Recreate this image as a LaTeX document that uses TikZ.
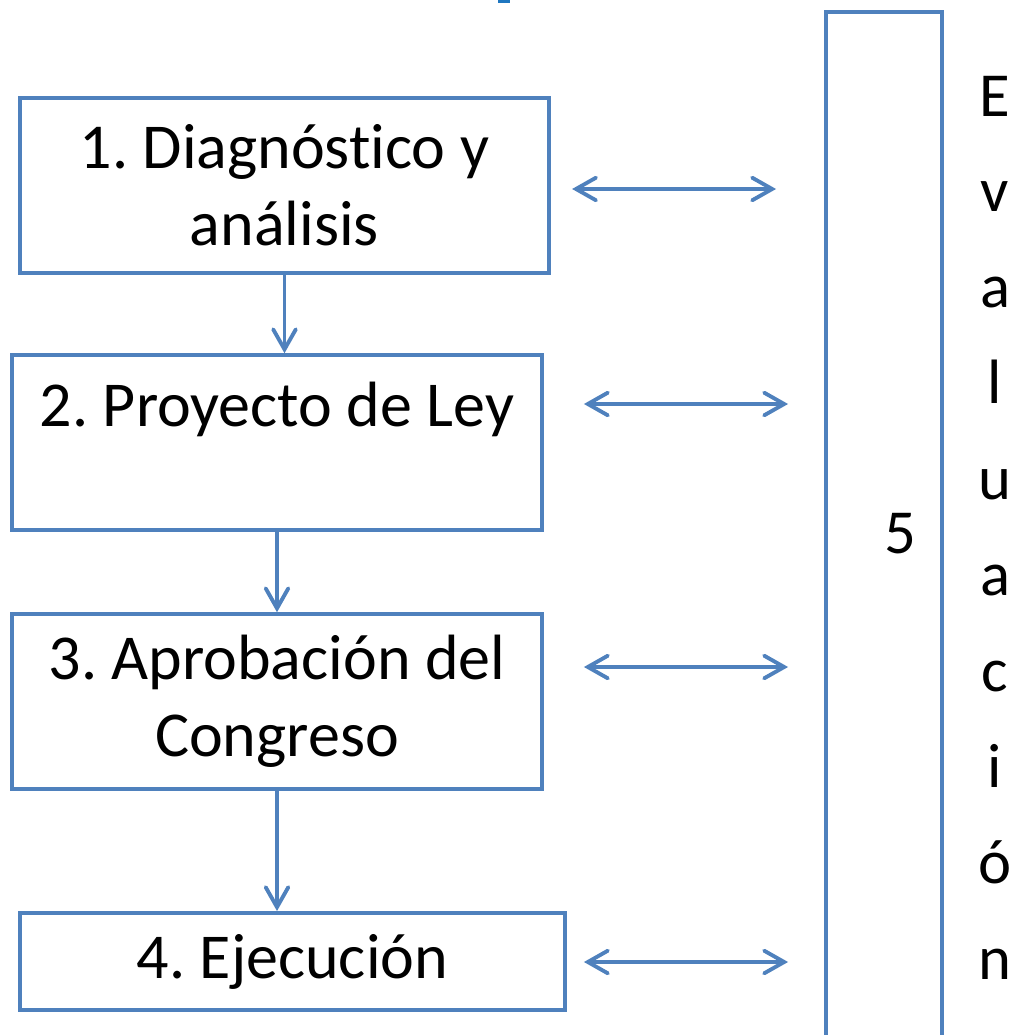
\documentclass[tikz,border=0pt]{standalone}
\usepackage{fontspec}
\setmainfont[Ligatures=NoCommon]{Carlito}
\usetikzlibrary{arrows.meta,positioning}
\frenchspacing

\definecolor{boxblue}{RGB}{79,129,189}
\definecolor{titleblue}{RGB}{31,119,192}

\tikzset{
  stagebox/.style={draw=boxblue, line width=2.9pt, rectangle, align=center, inner sep=0pt,
    font=\fontsize{48}{58}\selectfont},
  letter/.style={inner sep=0pt, font=\fontsize{47}{57}\selectfont},
  flow/.style={draw=boxblue, line width=2.9pt, -{Straight Barb[length=15pt,width=17pt,line cap=round]}},
  link/.style={draw=boxblue, line width=2.9pt, {Straight Barb[length=15pt,width=17pt,line cap=round]}-{Straight Barb[length=15pt,width=17pt,line cap=round]}}
}

\begin{document}
\begin{tikzpicture}[x=0.75pt,y=0.75pt,yscale=-1,xscale=1]
\useasboundingbox (0,0) rectangle (1013,1035);

% cut-off title piece
\fill [titleblue] (498,0) rectangle (510,2.5);

% Stage boxes
\node [stagebox, minimum width=397pt, minimum height=131pt] (diag) at (284.5,185.5) {1. Diagnóstico y\\análisis};
\node [stagebox, minimum width=397.5pt, minimum height=131pt] (proy) at (277,442.5) {2. Proyecto de Ley\\\mbox{}};
\node [stagebox, minimum width=397.5pt, minimum height=131pt] (aprob) at (277,701.5) {3. Aprobación del\\Congreso};
\node [stagebox, minimum width=408.75pt, minimum height=72.75pt] (ejec) at (292.5,961.5) {4. Ejecución};

% Evaluation column
\node [draw=boxblue, line width=2.9pt, rectangle, minimum width=87pt, minimum height=786pt, inner sep=0pt] (eval) at (884,536) {};
\node [letter] (five) at (900,534) {5};
\foreach \ch [count=\i from 0] in {E,v,a,l,u,a,c,i,ó,n}
  \node [letter, anchor=base] (ev\i) at (995,116+95.9*\i) {\ch};

% Flow between stages
\draw [flow] (diag.south) -- (diag.south |- proy.north);
\draw [flow] (proy.south) -- (proy.south |- aprob.north);
\draw [flow] (aprob.south) -- (aprob.south |- ejec.north);

% Links to evaluation
\draw [link, shorten <=15.75pt, shorten >=36pt] (diag.east |- 0,189) -- (eval.west |- 0,189);
\draw [link, shorten <=30pt, shorten >=27pt] (proy.east |- 0,404) -- (eval.west |- 0,404);
\draw [link, shorten <=30pt, shorten >=27pt] (aprob.east |- 0,667) -- (eval.west |- 0,667);
\draw [link, shorten <=12.75pt, shorten >=27pt] (ejec.east |- 0,962) -- (eval.west |- 0,962);

\end{tikzpicture}
\end{document}
